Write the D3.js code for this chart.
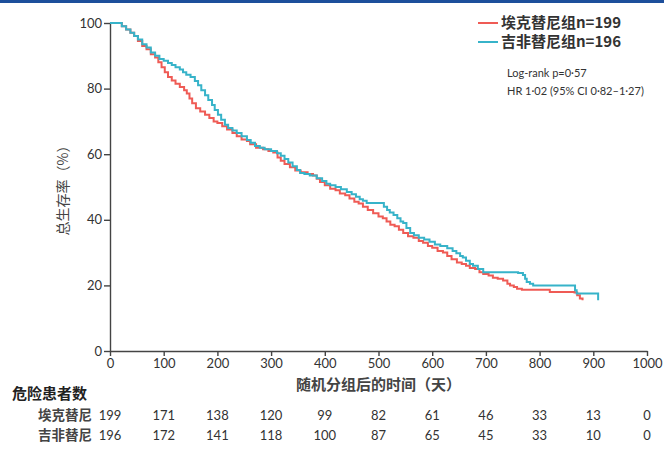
<!DOCTYPE html>
<meta charset="utf-8">
<style>
body { margin: 0; background: #fff; font-family: "Noto Sans CJK SC", Lato, sans-serif; }
.axis path, .axis line { stroke: #444; stroke-width: 1.4px; }
.axis text { font-family: Lato, "Noto Sans", sans-serif; font-size: 13px; fill: #333; }
.km { fill: none; stroke-width: 2px; }
</style>
<svg width="664" height="457"></svg>
<script src="https://cdn.jsdelivr.net/npm/d3@7/dist/d3.min.js"></script>
<script>
var xTicks = [0, 100, 200, 300, 400, 500, 600, 700, 800, 900, 1000];
var yTicks = [0, 20, 40, 60, 80, 100];
var groupNames = ["埃克替尼组n=199", "吉非替尼组n=196"];
var rowNames = ["埃克替尼", "吉非替尼"];
var atRiskIcotinib = [199, 171, 138, 120, 99, 82, 61, 46, 33, 13, 0];
var atRiskGefitinib = [196, 172, 141, 118, 100, 87, 65, 45, 33, 10, 0];
var statsText = ["Log-rank p=0·57", "HR 1·02 (95% CI 0·82–1·27)"];

// [day, survival %]
var osIcotinib = [
  [0,100],[15,100],[22,99],[30,98],[38,97],[45,96],[52,94.5],[60,93],[68,92],[76,90.5],
  [84,89.5],[90,88],[96,86.5],[102,85],[108,83.5],[115,82.5],[122,81.5],[130,80.5],[138,79.5],
  [143,78.5],[148,77],[153,75.5],[160,74],[168,73],[177,72],[185,71],[193,70],[200,69.5],
  [209,68.5],[218,67.5],[228,66.5],[236,65.5],[245,64.5],[255,64],[261,63],[272,62],[285,61.5],
  [295,61],[304,60.5],[312,59],[318,58],[325,57],[335,56],[345,55],[355,54.5],[368,54],
  [378,53.5],[385,52.5],[391,51.5],[400,50.5],[410,49.5],[420,49],[428,48],[438,47.5],
  [446,46.5],[455,45.5],[463,45],[471,44],[480,43],[490,42],[500,41],[508,40.5],[515,39.5],
  [522,38.5],[530,38],[538,37],[546,36],[555,35],[565,34.5],[575,33.5],[583,33],[592,32],
  [600,31.5],[610,30.5],[620,30],[628,29],[636,28],[646,27],[655,26.5],[663,26],[670,25.3],
  [680,25],[688,24],[695,23.5],[705,23],[713,22.3],[722,22],[732,21.5],[740,20.5],[745,20],
  [752,19.5],[758,19],[767,18.7],[819,18],[865,17.8],[870,17],[875,16],[880,15.5]
];
var osGefitinib = [
  [0,100],[15,100],[22,99],[30,98],[38,97],[45,96],[52,95],[60,93.5],[68,92.5],[76,91],
  [84,90],[92,89],[100,88.5],[108,87.8],[115,87.2],[122,86.5],[130,85.8],[136,85],[142,84.2],
  [150,83.5],[158,82.3],[164,81],[170,79.5],[177,78],[183,76.5],[190,75],[195,73.5],[201,72],
  [207,70.5],[214,69],[220,68],[228,67.2],[236,66.5],[245,65.5],[255,64.3],[262,63.5],
  [270,62.5],[279,62],[288,61.5],[300,61],[311,60.3],[318,59.5],[325,58.5],[332,57.5],
  [340,56.3],[348,55.2],[354,54.3],[362,54],[372,53.5],[385,52.7],[395,51.8],[403,51],
  [410,50.5],[420,50],[430,49.3],[441,48.5],[450,47.8],[458,47],[465,46.3],[471,45.8],
  [478,45.1],[510,44],[516,43],[521,42.2],[528,41.5],[535,40.5],[541,39.5],[546,39],
  [552,37.5],[559,36],[566,35.3],[575,34.5],[585,34],[595,33.3],[605,32.5],[615,32],
  [628,31.3],[638,30.5],[645,29.8],[652,29],[657,28.5],[663,27.5],[670,26.5],[676,26],
  [685,25],[695,24],[760,23.8],[769,23.2],[773,22],[776,21],[782,20.5],[788,20],
  [866,18.5],[869,17.5],[909,15.5]
];

var colors = ["#ef5b55", "#37b3c9"];

var svg = d3.select("svg"),
    margin = {top: 23, left: 110},
    width = 537,
    height = 328,
    g = svg.append("g").attr("transform", "translate(" + margin.left + "," + margin.top + ")");

// blue rule across the top of the page
svg.append("rect").attr("x", 0).attr("y", 0).attr("width", 664).attr("height", 3).attr("fill", "#1d4f9b");

var x = d3.scaleLinear().domain([0, 1000]).range([0, width]),
    y = d3.scaleLinear().domain([0, 100]).range([height, 0]);

g.append("g")
    .attr("class", "axis axis--x")
    .attr("transform", "translate(0," + height + ")")
    .call(d3.axisBottom(x).tickValues(xTicks).tickFormat(d3.format("d"))
      .tickSize(5).tickSizeOuter(0).tickPadding(3));

g.append("g")
    .attr("class", "axis axis--y")
    .call(d3.axisLeft(y).tickValues(yTicks).tickSize(6).tickSizeOuter(0).tickPadding(2));

var line = d3.line()
    .curve(d3.curveStepAfter)
    .x(function(d) { return x(d[0]); })
    .y(function(d) { return y(d[1]); });

[osIcotinib, osGefitinib].forEach(function(series, i) {
  g.append("path")
      .attr("class", "km")
      .attr("d", line(series))
      .style("stroke", colors[i]);
});

// axis titles
svg.append("text")
    .attr("transform", "translate(68," + (margin.top + y(50)) + ") rotate(-90)")
    .attr("text-anchor", "middle")
    .style("font-size", "14px")
    .style("fill", "#444")
    .text("总生存率（%）");

svg.append("text")
    .attr("x", margin.left + x(500))
    .attr("y", 390)
    .attr("text-anchor", "middle")
    .style("font-size", "15px")
    .style("font-weight", "bold")
    .style("fill", "#444")
    .text("随机分组后的时间（天）");

// legend
var legend = svg.append("g").attr("transform", "translate(478,23)");
groupNames.forEach(function(name, i) {
  legend.append("line")
      .attr("x1", 0).attr("x2", 20)
      .attr("y1", i * 19).attr("y2", i * 19)
      .style("stroke", colors[i]).style("stroke-width", 2);
  legend.append("text")
      .attr("x", 23).attr("y", i * 19).attr("dy", "0.36em")
      .style("font-size", "15px")
      .style("font-weight", "bold")
      .style("fill", "#333")
      .text(name);
});

statsText.forEach(function(t, i) {
  svg.append("text")
      .attr("x", 507).attr("y", 77 + i * 18)
      .style("font-family", "Lato, sans-serif")
      .style("font-size", "11px")
      .style("fill", "#333")
      .text(t);
});

// number at risk table
svg.append("text")
    .attr("x", 12).attr("y", 399)
    .style("font-size", "15px")
    .style("font-weight", "bold")
    .style("fill", "#222")
    .text("危险患者数");

[atRiskIcotinib, atRiskGefitinib].forEach(function(row, i) {
  var ry = 420 + i * 20;
  svg.append("text")
      .attr("x", 92).attr("y", ry)
      .attr("text-anchor", "end")
      .style("font-size", "13.5px")
      .style("font-weight", "bold")
      .style("fill", "#444")
      .text(rowNames[i]);
  svg.selectAll(".risk" + i)
    .data(row)
    .enter().append("text")
      .attr("class", "risk" + i)
      .attr("x", function(d, j) { return margin.left + x(xTicks[j]); })
      .attr("y", ry)
      .attr("text-anchor", "middle")
      .style("font-family", "Lato, sans-serif")
      .style("font-size", "13px")
      .style("fill", "#333")
      .text(function(d) { return d; });
});
</script>
